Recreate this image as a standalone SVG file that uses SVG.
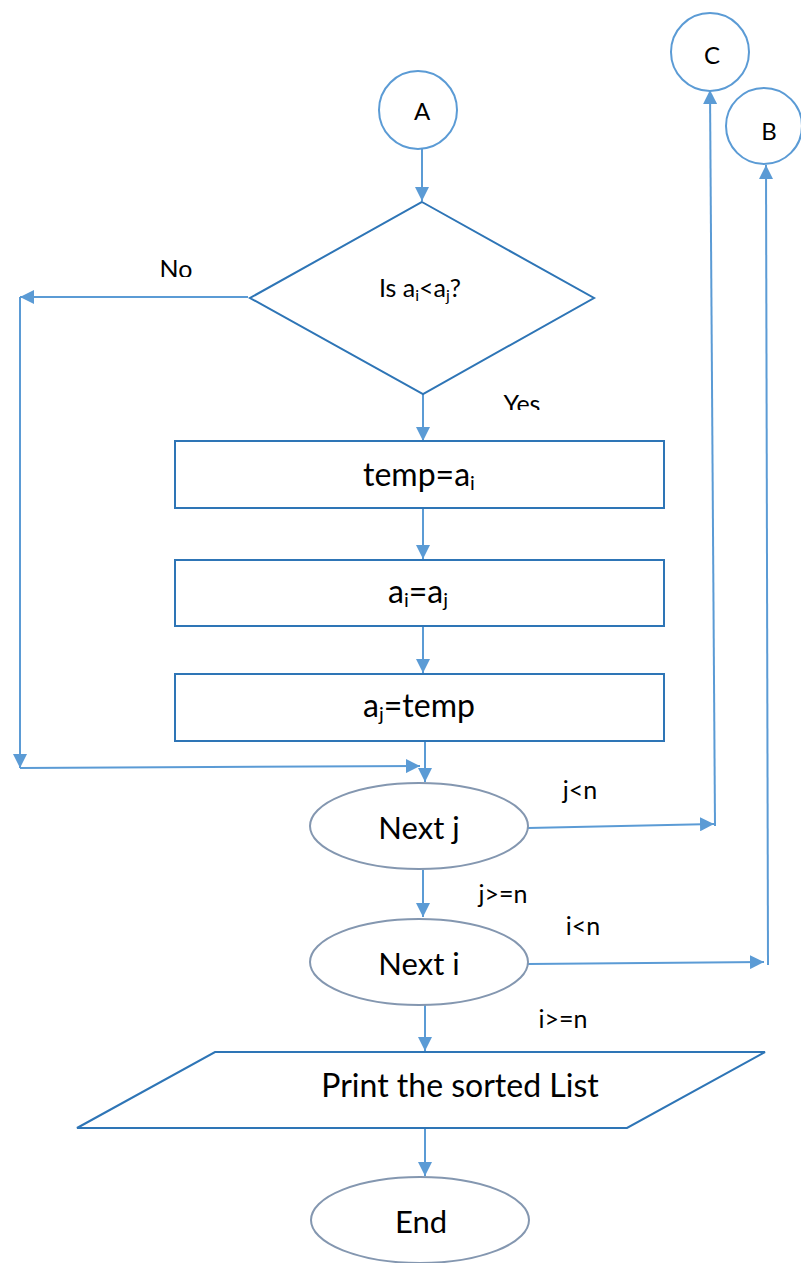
<svg xmlns="http://www.w3.org/2000/svg" width="801" height="1263" viewBox="0 0 801 1263">
<style>
.bg{fill:#ffffff}
.circ{fill:#ffffff;stroke:#5B9BD5;stroke-width:2}
.box{fill:#ffffff;stroke:#2E75B6;stroke-width:2}
.oval{fill:#ffffff;stroke:#8497B0;stroke-width:2}
.conn{fill:none;stroke:#5B9BD5;stroke-width:2}
text{font-family:Lato,"Liberation Sans",sans-serif;fill:#000000;text-anchor:middle}
.big{font-size:32px}
.ov{font-size:31px}
.mid{font-size:24px}
.lbl{font-size:25px}
.dia{font-size:25px}
</style>
<defs>
<marker id="ah" viewBox="0 0 14 14" refX="14" refY="7" markerWidth="14" markerHeight="14" markerUnits="userSpaceOnUse" orient="auto">
<path d="M0,0 L14,7 L0,14 z" fill="#5B9BD5"/>
</marker>
<clipPath id="clipNo"><rect x="100" y="240" width="150" height="37"/></clipPath>
<clipPath id="clipYes"><rect x="460" y="380" width="120" height="30"/></clipPath>
</defs>
<rect class="bg" x="0" y="0" width="801" height="1263"/>
<g id="connectors">
<path class="conn" d="M422,149 L422,201" marker-end="url(#ah)"/>
<path class="conn" d="M423,394 L423,441" marker-end="url(#ah)"/>
<path class="conn" d="M423,508 L423,559" marker-end="url(#ah)"/>
<path class="conn" d="M423,626 L423,673" marker-end="url(#ah)"/>
<path class="conn" d="M425,735 L425,782" marker-end="url(#ah)"/>
<path class="conn" d="M248,297 L20,297" marker-end="url(#ah)"/>
<path class="conn" d="M20,297 L20,768" marker-end="url(#ah)"/>
<path class="conn" d="M20,768 L420,766" marker-end="url(#ah)"/>
<path class="conn" d="M528,828 L714,824" marker-end="url(#ah)"/>
<path class="conn" d="M715,826 L710,90" marker-end="url(#ah)"/>
<path class="conn" d="M423,870 L423,917" marker-end="url(#ah)"/>
<path class="conn" d="M528,964 L764,962" marker-end="url(#ah)"/>
<path class="conn" d="M768,965 L766,165" marker-end="url(#ah)"/>
<path class="conn" d="M425,1005 L425,1051" marker-end="url(#ah)"/>
<path class="conn" d="M425,1125 L425,1176" marker-end="url(#ah)"/>
</g>
<g id="nodeA">
<circle class="circ" cx="418" cy="110" r="39"/>
<text class="mid" x="422" y="120">A</text>
</g>
<g id="nodeC">
<circle class="circ" cx="710" cy="52" r="39"/>
<text class="mid" x="712" y="64">C</text>
</g>
<g id="nodeB">
<circle class="circ" cx="764" cy="126" r="38"/>
<text class="mid" x="769" y="140">B</text>
</g>
<g id="decision">
<polygon class="box" points="422,202 594,298 423,394 250,298"/>
<text class="dia" x="420" y="297">Is a<tspan font-size="16" dy="4">i</tspan><tspan dy="-4">&lt;a</tspan><tspan font-size="16" dy="4">j</tspan><tspan dy="-4">?</tspan></text>
</g>
<g id="labelNo"><text class="lbl" x="176" y="278" clip-path="url(#clipNo)">No</text></g>
<g id="labelYes"><text class="lbl" x="522" y="413" clip-path="url(#clipYes)">Yes</text></g>
<g id="step1">
<rect class="box" x="175" y="441" width="489" height="67"/>
<text class="big" x="419" y="486">temp=a<tspan font-size="20" dy="4">i</tspan></text>
</g>
<g id="step2">
<rect class="box" x="175" y="560" width="489" height="66"/>
<text class="big" x="418" y="603">a<tspan font-size="20" dy="4">i</tspan><tspan dy="-4">=a</tspan><tspan font-size="20" dy="4">j</tspan></text>
</g>
<g id="step3">
<rect class="box" x="175" y="674" width="489" height="67"/>
<text class="big" x="419" y="717">a<tspan font-size="20" dy="4">j</tspan><tspan dy="-4">=temp</tspan></text>
</g>
<g id="nextj">
<ellipse class="oval" cx="419" cy="826" rx="109" ry="43"/>
<text class="ov" x="419" y="839">Next j</text>
</g>
<g id="labelJlt"><text class="lbl" x="580" y="799">j&lt;n</text></g>
<g id="labelJge"><text class="lbl" x="503" y="903">j&gt;=n</text></g>
<g id="nexti">
<ellipse class="oval" cx="419" cy="962" rx="109" ry="43"/>
<text class="ov" x="419" y="975">Next i</text>
</g>
<g id="labelIlt"><text class="lbl" x="583" y="935">i&lt;n</text></g>
<g id="labelIge"><text class="lbl" x="563" y="1028">i&gt;=n</text></g>
<g id="print">
<polygon class="box" points="215,1052 765,1052 627,1128 77,1128"/>
<text class="big" x="460" y="1097">Print the sorted List</text>
</g>
<g id="end">
<ellipse class="oval" cx="420" cy="1220" rx="109" ry="43"/>
<text class="ov" x="421" y="1233">End</text>
</g>
</svg>
